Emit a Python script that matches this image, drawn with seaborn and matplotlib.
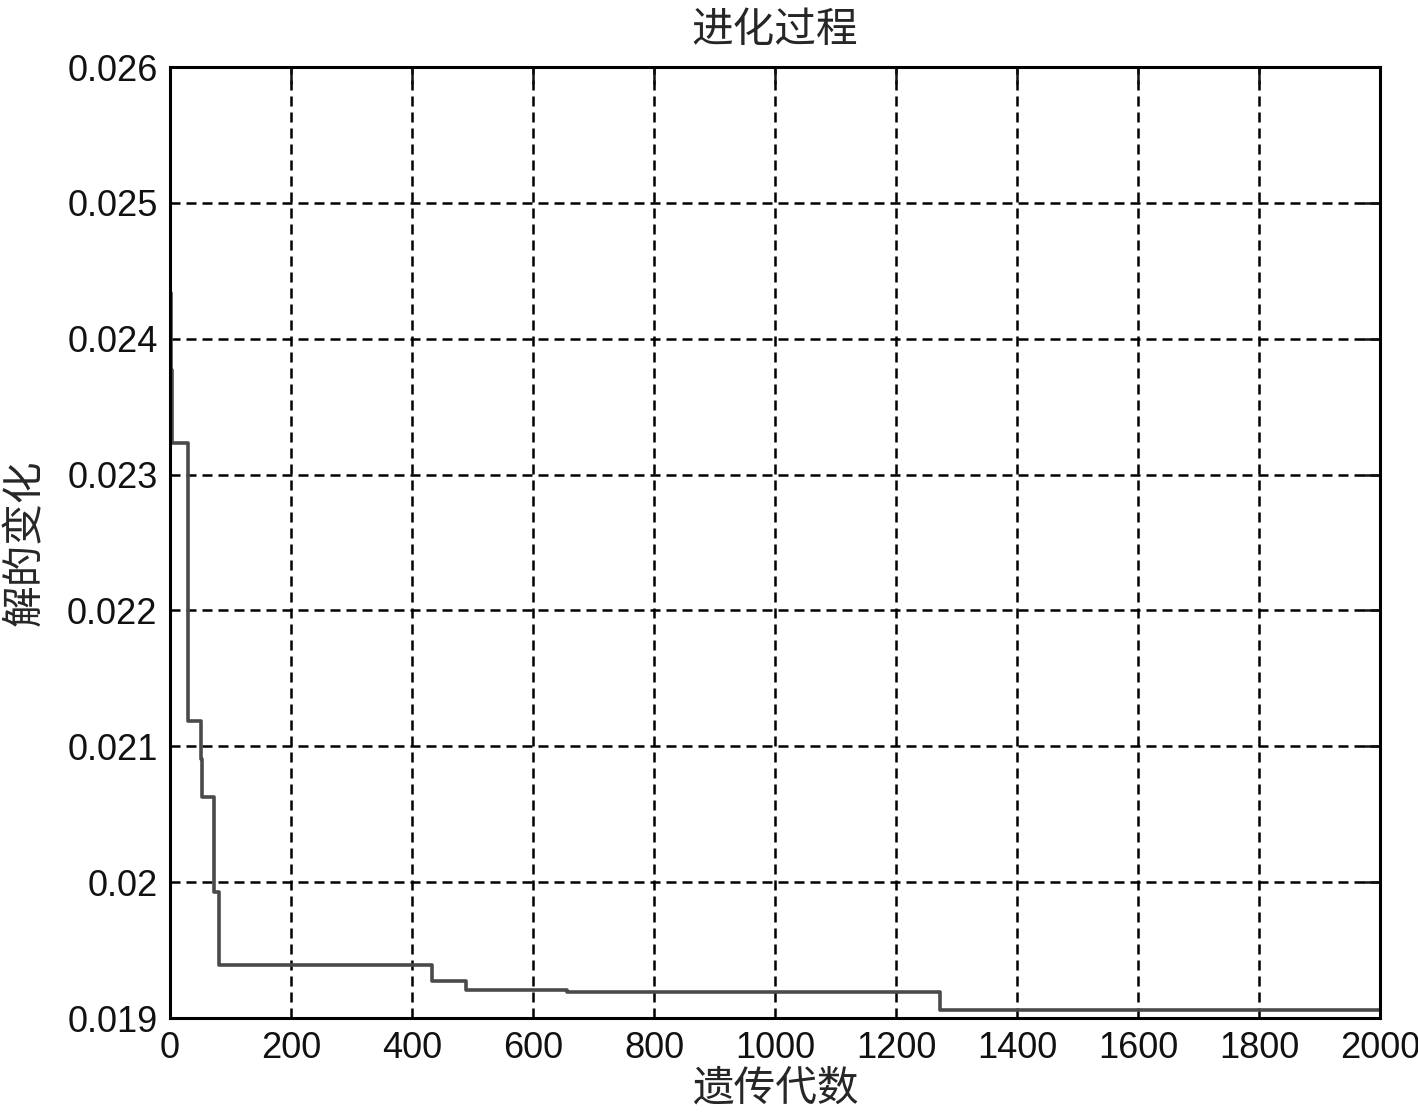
import matplotlib
matplotlib.use('Agg')
import matplotlib.pyplot as plt
import seaborn as sns

# generation at which the best solution changes, and the new value
gens = [0, 1, 3, 29, 51, 53, 73, 81, 433, 490, 656, 1273, 2000]
best = [0.02434, 0.02377, 0.02323, 0.02119, 0.02091, 0.02063, 0.01993,
        0.01939, 0.01927, 0.01921, 0.01919, 0.01906, 0.01906]
xticks = list(range(0, 2001, 200))
yticks = [0.019, 0.02, 0.021, 0.022, 0.023, 0.024, 0.025, 0.026]
yticklabels = ['0.019', '0.02', '0.021', '0.022', '0.023', '0.024', '0.025', '0.026']

sns.set_style('white')
plt.rcParams['font.family'] = ['Liberation Sans', 'Noto Sans CJK SC']

fig = plt.figure(figsize=(14.18, 11.12), dpi=100)
ax = fig.add_axes([0.1199, 0.0845, 0.8533, 0.8552])

sns.lineplot(x=gens, y=best, drawstyle='steps-post', color='#4a4a4a',
             linewidth=2.6, estimator=None, ax=ax)

ax.set_xlim(0, 2000)
ax.set_ylim(0.019, 0.026)
ax.set_xticks(xticks)
ax.set_yticks(yticks)
ax.set_yticklabels(yticklabels)
ax.grid(True, color='k', linestyle=(0, (4.0, 2.4)), linewidth=1.8)
ax.tick_params(direction='in', length=12, width=1.8, top=True, right=True,
               labelsize=26, pad=9, colors='#111111')
for s in ax.spines.values():
    s.set_color('k')
    s.set_linewidth(2.2)

ax.set_title('进化过程', fontsize=30, pad=18)
ax.set_xlabel('遗传代数', fontsize=30, labelpad=3)
ax.set_ylabel('解的变化', fontsize=30, labelpad=15)

fig.savefig('out.png', dpi=100)
